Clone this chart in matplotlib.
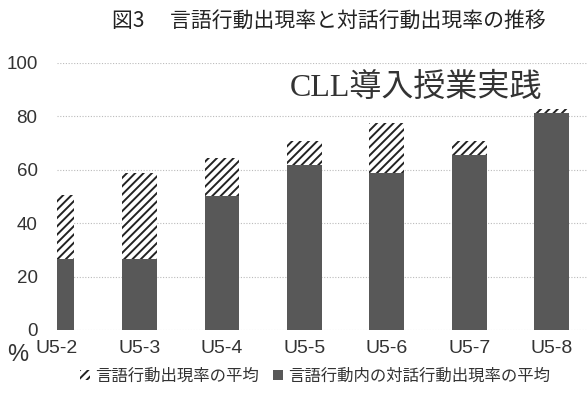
import matplotlib
matplotlib.use("Agg")
import matplotlib.pyplot as plt
from matplotlib.patches import Patch
import numpy as np

categories = ["U5-2", "U5-3", "U5-4", "U5-5", "U5-6", "U5-7", "U5-8"]
speech_rate = [50.5, 58.6, 64.2, 70.8, 77.6, 70.6, 82.8]      # 言語行動出現率の平均
dialogue_rate = [26.7, 26.6, 50.0, 61.7, 58.8, 65.3, 81.0]    # 言語行動内の対話行動出現率の平均
yticks = [0, 20, 40, 60, 80, 100]

NARROW = ['Liberation Sans Narrow', 'Liberation Sans', 'Noto Sans CJK JP', 'DejaVu Sans']
CJK = ['Noto Sans CJK JP', 'DejaVu Sans']
plt.rcParams['font.family'] = CJK
plt.rcParams['hatch.linewidth'] = 1.4

fig = plt.figure(figsize=(5.88, 4.03), dpi=100)
ax = fig.add_axes([57/588, 1-330/403, 1-57/588, (330-62.7)/403])

x = np.arange(len(categories))
w = 0.42
ax.bar(x, speech_rate, width=w, facecolor='white', edgecolor='#222222',
       hatch='////', linewidth=0, zorder=2)
ax.bar(x, dialogue_rate, width=w, color='#585858', linewidth=0, zorder=3)

ax.set_xlim(0.02, 6.44)
ax.set_ylim(0, 100)
ax.set_yticks(yticks)
ax.set_yticklabels([str(v) for v in yticks], family=NARROW, fontsize=13.5, color='#333333')
ax.yaxis.set_tick_params(length=0, pad=14)
ax.set_xticks(x)
ax.set_xticklabels(categories, family=NARROW, fontsize=14, color='#333333')
ax.xaxis.set_tick_params(length=0, pad=7)
ax.grid(axis='y', linestyle=(0, (1, 1.5)), color='#bbbbbb', linewidth=0.8, zorder=0)
for s in ax.spines.values():
    s.set_visible(False)

fig.text(18/588, 1-355/403, '%', family=NARROW, fontsize=17, color='#333333',
         ha='center', va='center')
fig.text(329/588, 1-21/403, '図3　 言語行動出現率と対話行動出現率の推移', fontsize=15,
         color='#222222', ha='center', va='center')
fig.text(416/588, 1-88/403, 'CLL導入授業実践',
         family=['Liberation Serif', 'Noto Sans CJK JP', 'DejaVu Serif'],
         fontsize=23, color='#333333', ha='center', va='center')

handles = [Patch(facecolor='white', edgecolor='#222222', hatch='////', linewidth=0),
           Patch(facecolor='#585858', linewidth=0)]
labels = ['言語行動出現率の平均', '言語行動内の対話行動出現率の平均']
fig.legend(handles, labels, loc='center', bbox_to_anchor=(315/588, 1-376/403),
           ncol=2, frameon=False, fontsize=11.8, handlelength=0.6, handleheight=0.6,
           handletextpad=0.3, columnspacing=0.9, labelcolor='#333333')

fig.savefig('out.png', dpi=100)
